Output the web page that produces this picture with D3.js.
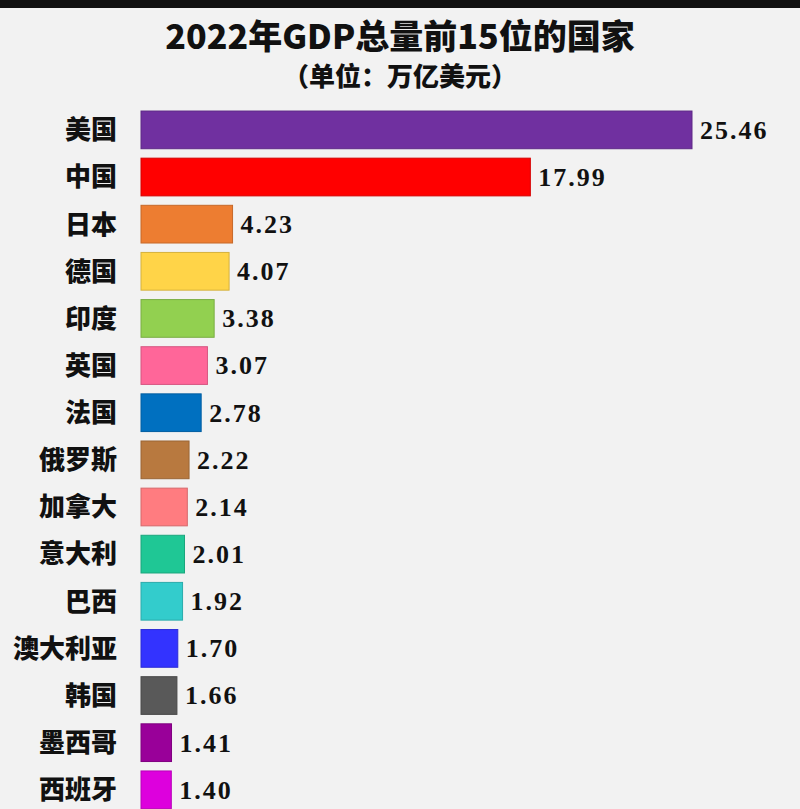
<!DOCTYPE html>
<html>
<head>
<meta charset="utf-8">
<script src="https://cdn.jsdelivr.net/npm/d3@7"></script>
<style>
  html, body { margin: 0; padding: 0; background: #f2f2f2; }
  svg { display: block; }
</style>
</head>
<body>
<div id="chart"></div>
<script>
// 2022年GDP前15位国家（万亿美元）
const countries = ['美国', '中国', '日本', '德国', '印度', '英国', '法国', '俄罗斯', '加拿大', '意大利', '巴西', '澳大利亚', '韩国', '墨西哥', '西班牙'];
const gdpValues = [25.46, 17.99, 4.23, 4.07, 3.38, 3.07, 2.78, 2.22, 2.14, 2.01, 1.92, 1.70, 1.66, 1.41, 1.40];
const barColors = ['#7030a0', '#ff0000', '#ed7d31', '#ffd448', '#92d050', '#ff6699', '#0070c0', '#b8793f', '#ff7c80', '#1fc795', '#33cccc', '#3333ff', '#595959', '#990099', '#dd00dd'];

const width = 800;
const height = 809;

const data = countries.map((c, i) => ({ name: c, value: gdpValues[i], color: barColors[i] }));

const svg = d3.select('#chart')
    .append('svg')
    .attr('width', width)
    .attr('height', height);

svg.append('rect')
    .attr('width', width)
    .attr('height', height)
    .attr('fill', '#f2f2f2');

// 顶部黑边
svg.append('rect')
    .attr('width', width)
    .attr('height', 8)
    .attr('fill', '#111');

svg.append('text')
    .attr('x', 400)
    .attr('y', 49)
    .attr('text-anchor', 'middle')
    .attr('font-family', '"Noto Sans CJK SC", sans-serif')
    .attr('font-weight', 900)
    .attr('font-size', 34)
    .attr('fill', '#111')
    .text('2022年GDP总量前15位的国家');

svg.append('text')
    .attr('x', 400)
    .attr('y', 86)
    .attr('text-anchor', 'middle')
    .attr('font-family', '"Noto Sans CJK SC", sans-serif')
    .attr('font-weight', 900)
    .attr('font-size', 26)
    .attr('fill', '#111')
    .text('（单位：万亿美元）');

const x = d3.scaleLinear()
    .domain([0, d3.max(gdpValues)])
    .range([141, 692]);

const y = d3.scaleBand()
    .domain(countries)
    .range([101.6, 818.1])
    .padding(0.2);

const rows = svg.append('g')
    .selectAll('g')
    .data(data)
    .enter().append('g');

rows.append('rect')
    .attr('x', x(0))
    .attr('y', d => y(d.name))
    .attr('width', d => x(d.value) - x(0))
    .attr('height', y.bandwidth())
    .attr('fill', d => d.color)
    .attr('stroke', d => d3.color(d.color).darker(0.5))
    .attr('stroke-width', 1);

rows.append('text')
    .attr('x', 117)
    .attr('y', d => y(d.name) + y.bandwidth() / 2)
    .attr('dy', '0.36em')
    .attr('text-anchor', 'end')
    .attr('font-family', '"Noto Sans CJK SC", sans-serif')
    .attr('font-weight', 900)
    .attr('font-size', 26)
    .attr('fill', '#111')
    .text(d => d.name);

rows.append('text')
    .attr('x', d => x(d.value) + 8)
    .attr('y', d => y(d.name) + y.bandwidth() / 2)
    .attr('dy', '0.34em')
    .attr('font-family', '"Liberation Serif", serif')
    .attr('font-weight', 700)
    .attr('font-size', 26)
    .attr('letter-spacing', 2)
    .attr('fill', '#111')
    .text(d => d.value.toFixed(2));
</script>
</body>
</html>
